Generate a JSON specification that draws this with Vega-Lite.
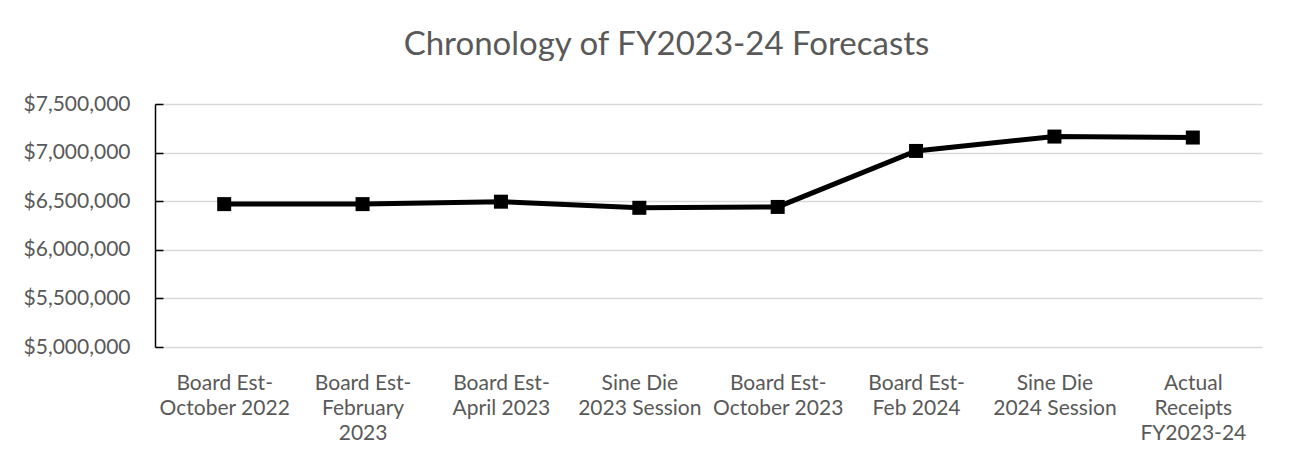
{
  "$schema": "https://vega.github.io/schema/vega-lite/v6.json",
  "width": 1107,
  "height": 243,
  "autosize": {"type": "none"},
  "padding": {"left": 155, "top": 104, "right": 29, "bottom": 119},
  "background": "white",
  "title": {
    "text": "Chronology of FY2023-24 Forecasts",
    "font": "Lato",
    "fontSize": 33,
    "fontWeight": "normal",
    "color": "#595959",
    "anchor": "middle",
    "dx": -42,
    "offset": 31
  },
  "data": {
    "values": [
      {"stage": "Board Est-\nOctober 2022", "forecast": 6470000},
      {"stage": "Board Est-\nFebruary\n2023", "forecast": 6470000},
      {"stage": "Board Est-\nApril 2023", "forecast": 6495000},
      {"stage": "Sine Die\n2023 Session", "forecast": 6432000},
      {"stage": "Board Est-\nOctober 2023", "forecast": 6441000},
      {"stage": "Board Est-\nFeb 2024", "forecast": 7017000},
      {"stage": "Sine Die\n2024 Session", "forecast": 7165000},
      {"stage": "Actual\nReceipts\nFY2023-24", "forecast": 7155000}
    ]
  },
  "mark": {
    "type": "line",
    "color": "black",
    "strokeWidth": 5,
    "point": {"shape": "square", "size": 196, "filled": true, "color": "black", "opacity": 1}
  },
  "encoding": {
    "x": {
      "field": "stage",
      "type": "nominal",
      "sort": null,
      "scale": {"type": "point", "padding": 0.5},
      "axis": {
        "title": null,
        "labelAngle": 0,
        "domain": false,
        "ticks": false,
        "grid": false,
        "labelExpr": "split(datum.value, '\\n')",
        "labelFont": "Lato",
        "labelFontSize": 21,
        "labelColor": "#595959",
        "labelLineHeight": 25,
        "labelPadding": 25,
        "labelBaseline": "top"
      }
    },
    "y": {
      "field": "forecast",
      "type": "quantitative",
      "scale": {"domain": [5000000, 7500000], "nice": false, "zero": false},
      "axis": {
        "title": null,
        "values": [5000000, 5500000, 6000000, 6500000, 7000000, 7500000],
        "format": "$,.0f",
        "labelFont": "Lato",
        "labelFontSize": 21,
        "labelColor": "#595959",
        "labelPadding": 33,
        "domain": true,
        "domainColor": "black",
        "domainWidth": 1.5,
        "ticks": true,
        "tickColor": "black",
        "tickWidth": 1.5,
        "tickSize": -8,
        "grid": true,
        "gridColor": "#d9d9d9",
        "gridWidth": 1.5
      }
    }
  },
  "config": {
    "view": {"stroke": null}
  }
}
